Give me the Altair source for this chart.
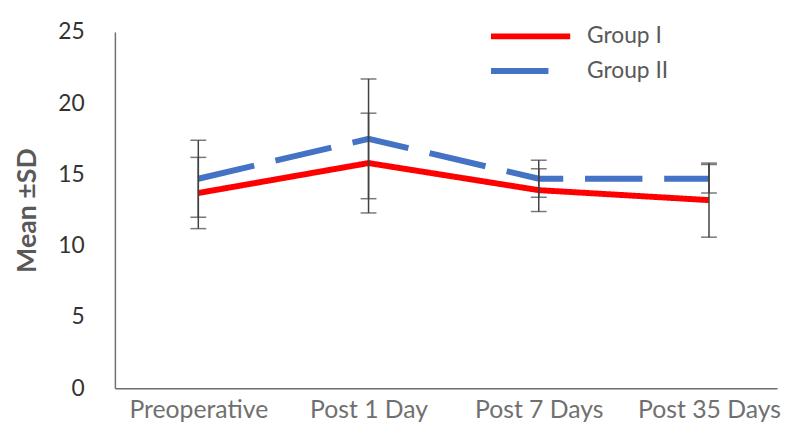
import json
import altair as alt
import pandas as pd

categories = ["Preoperative", "Post 1 Day", "Post 7 Days", "Post 35 Days"]
groups = ["Group I", "Group II"]
g1_mean = [13.7, 15.8, 13.9, 13.2]
g1_sd = [2.5, 3.5, 1.5, 2.6]
g2_mean = [14.7, 17.5, 14.7, 14.7]
g2_sd = [2.7, 4.2, 1.3, 1.0]
y_ticks = [0, 5, 10, 15, 20, 25]

rows = []
for g, means, sds in [(groups[0], g1_mean, g1_sd), (groups[1], g2_mean, g2_sd)]:
    for i, (c, m, s) in enumerate(zip(categories, means, sds)):
        rows.append({"group": g, "cat": c, "idx": i, "mean": m, "lo": m - s, "hi": m + s})
df = pd.DataFrame(rows)

FONT = "Lato"
label_expr = json.dumps(categories) + "[datum.value]"

x = alt.X(
    "idx:Q",
    scale=alt.Scale(domain=[-0.49, 3.40], nice=False, zero=False),
    axis=alt.Axis(
        values=[0, 1, 2, 3], labelExpr=label_expr, title=None, grid=False, ticks=False,
        domainColor="#6f6f6f", domainWidth=1.5, labelFont=FONT, labelFontSize=25,
        labelColor="#707070", labelPadding=10, labelFlush=False, labelOverlap=False,
    ),
)
y = alt.Y(
    "mean:Q",
    scale=alt.Scale(domain=[0, 25], nice=False),
    axis=alt.Axis(
        values=y_ticks, grid=False, ticks=False, title="Mean ±SD",
        domainColor="#6f6f6f", domainWidth=1.5, labelFont=FONT, labelFontSize=23,
        labelColor="#333333", labelPadding=31, titleFont=FONT, titleFontSize=27,
        titleFontWeight="bold", titleColor="#595959", titlePadding=17,
    ),
)

legend = alt.Legend(
    title=None, orient="none", legendX=377, legendY=-13, symbolType="stroke",
    symbolSize=6400, symbolStrokeWidth=6, labelFont=FONT, labelFontSize=23,
    labelColor="#595959", labelOffset=14, clipHeight=35, rowPadding=0,
)
color = alt.Color("group:N", scale=alt.Scale(domain=groups, range=["#ff0000", "#4472c4"]), legend=legend)
dash = alt.StrokeDash("group:N", scale=alt.Scale(domain=groups, range=[[1, 0], [58, 22]]), legend=legend)

lines = alt.Chart(df).mark_line(strokeWidth=6).encode(x=x, y=y, color=color, strokeDash=dash)
rules = alt.Chart(df).mark_rule(color="#404040", strokeWidth=1.5).encode(x="idx:Q", y="lo:Q", y2="hi:Q")
caps_lo = alt.Chart(df).mark_tick(orient="horizontal", color="#404040", thickness=1.5, size=16).encode(x="idx:Q", y="lo:Q")
caps_hi = alt.Chart(df).mark_tick(orient="horizontal", color="#404040", thickness=1.5, size=16).encode(x="idx:Q", y="hi:Q")

chart = (
    alt.layer(lines, rules, caps_lo, caps_hi)
    .properties(
        width=669, height=360,
        autosize=alt.AutoSizeParams(type="none"),
        padding={"left": 108, "top": 22, "right": 8, "bottom": 43},
        background="white",
    )
    .configure_view(stroke=None)
)
chart.save("out.html", embed_options={"renderer": "svg", "actions": False})
